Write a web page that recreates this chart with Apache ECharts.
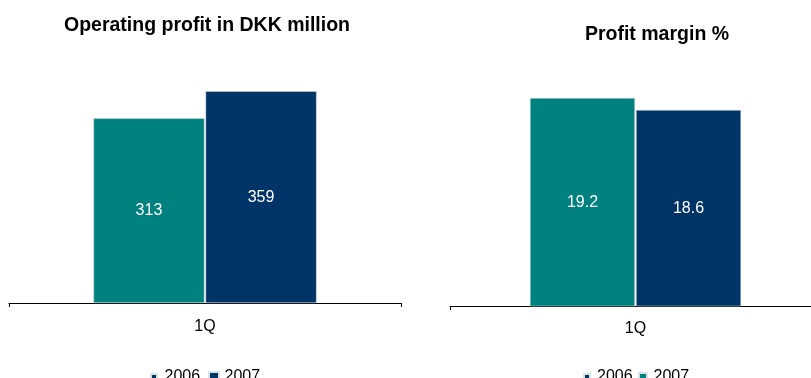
<!DOCTYPE html>
<html><head><meta charset="utf-8">
<script src="https://cdn.jsdelivr.net/npm/echarts@6/dist/echarts.min.js"></script>
<style>html,body{margin:0;padding:0;background:#fff}#c{width:811px;height:378px}</style>
</head><body><div id="c"></div>
<script>
const categories = ['1Q'];
const profit2006 = [313];
const profit2007 = [359];
const margin2006 = [19.2];
const margin2007 = [18.6];
const titles = ['Operating profit in DKK million', 'Profit margin %'];

const TEAL = '#00807F', NAVY = '#003366';
const SQ = 'path://M0,0h10v10h-10z';
const font = 'Arial, "Liberation Sans", Helvetica, sans-serif';
const chart = echarts.init(document.getElementById('c'), null, {renderer: 'canvas'});
const xAx = (gi, m) => ({
  type: 'category', gridIndex: gi, data: categories,
  axisLine: {lineStyle: {color: '#000', width: 1}},
  axisTick: {show: true, length: 4, lineStyle: {color: '#000'}},
  axisLabel: {color: '#000', fontSize: 16, fontFamily: font, margin: m}
});
const barLabel = {show: true, position: 'inside', color: '#fff', fontSize: 16, fontFamily: font};
const legText = {fontSize: 16, color: '#000', fontFamily: font};
const leg = (name, color, left, w, h, txt) => ({
  data: [{name: name, itemStyle: {color: color}}], formatter: () => txt,
  left: left, top: 369, padding: 0, itemWidth: w, itemHeight: h, icon: SQ, symbolKeepAspect: true,
  textStyle: legText
});
chart.setOption({
  animation: false,
  textStyle: {fontFamily: font},
  title: [
    {text: titles[0], left: 202, textAlign: 'center', top: 11, textStyle: {fontSize: 19.5, fontWeight: 'bold', color: '#000', fontFamily: font}},
    {text: titles[1], left: 652, textAlign: 'center', top: 20, textStyle: {fontSize: 19.5, fontWeight: 'bold', color: '#000', fontFamily: font}}
  ],
  grid: [
    {left: 9, width: 392, top: 67, height: 236, outerBoundsMode: 'none'},
    {left: 450, width: 371, top: 82, height: 224, outerBoundsMode: 'none'}
  ],
  xAxis: [xAx(0, 16), xAx(1, 15)],
  yAxis: [
    {type: 'value', gridIndex: 0, min: 0, max: 400, show: false, splitLine: {show: false}},
    {type: 'value', gridIndex: 1, min: 8.8, max: 20, show: false, splitLine: {show: false}}
  ],
  legend: [
    leg('2006', NAVY, 150, 11, 6, '2006'),
    leg('2007', NAVY, 208, 11, 10, '2007'),
    leg('m2006', NAVY, 583, 10, 6, '2006'),
    leg('m2007', TEAL, 638, 11, 8, '2007')
  ],
  series: [
    {name: '2006', type: 'bar', xAxisIndex: 0, yAxisIndex: 0, data: profit2006, barWidth: 111, barGap: '1%', itemStyle: {color: TEAL, borderColor: '#d8e4e4', borderWidth: 0.5}, label: barLabel},
    {name: '2007', type: 'bar', xAxisIndex: 0, yAxisIndex: 0, data: profit2007, barWidth: 111, barGap: '1%', itemStyle: {color: NAVY, borderColor: '#d8e0ea', borderWidth: 0.5}, label: barLabel},
    {name: 'm2006', type: 'bar', xAxisIndex: 1, yAxisIndex: 1, data: margin2006, barWidth: 105, barGap: '1%', itemStyle: {color: TEAL, borderColor: '#d8e4e4', borderWidth: 0.5}, label: barLabel},
    {name: 'm2007', type: 'bar', xAxisIndex: 1, yAxisIndex: 1, data: margin2007, barWidth: 105, barGap: '1%', itemStyle: {color: NAVY, borderColor: '#d8e0ea', borderWidth: 0.5}, label: barLabel}
  ]
});
</script></body></html>
